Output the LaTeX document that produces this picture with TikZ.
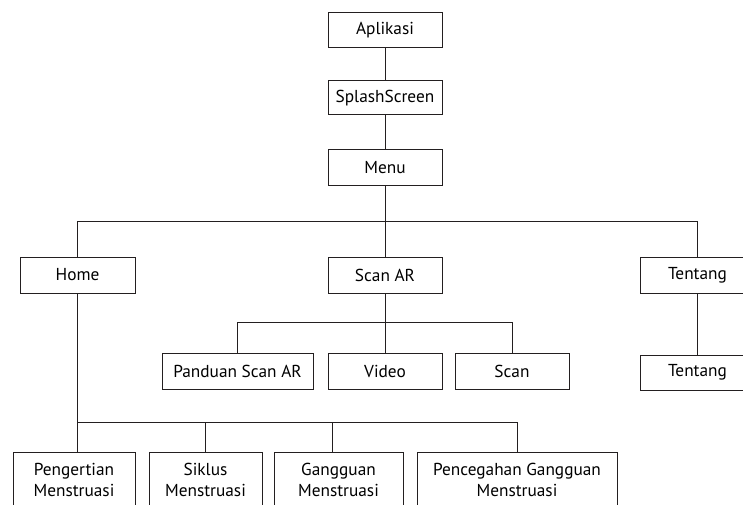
\documentclass[tikz,border=0pt]{standalone}
\usepackage{fontspec}
\setmainfont{PT Sans}
\usepackage{tikz}
\usetikzlibrary{positioning}
\usetikzlibrary{calc}

\begin{document}
\begin{tikzpicture}[x=1pt,y=1pt,yscale=-1,xscale=1,
  menubox/.style={draw={rgb,255:red,35;green,31;blue,32},line width=1pt,fill=white,
    inner sep=0pt,align=center,font=\fontsize{17.3}{21}\selectfont},
  wire/.style={draw={rgb,255:red,35;green,31;blue,32},line width=1pt}]
\useasboundingbox (0,0) rectangle (743,505);
\clip (0,0) rectangle (743,505);

% Top chain
\node[menubox,minimum width=114,minimum height=35] (aplikasi) at (385,30.5) {Aplikasi};
\node[menubox,minimum width=114,minimum height=34] (splash) at (385,98) {SplashScreen};
\node[menubox,minimum width=114,minimum height=35] (menu) at (385,167.5) {Menu};

% Main menu items
\node[menubox,minimum width=115,minimum height=36] (home) at (77.5,275) {Home};
\node[menubox,minimum width=114,minimum height=36] (scanar) at (385,275) {Scan AR};
\node[menubox,minimum width=115,minimum height=36] (tentang) at (697.5,275) {Tentang};

% Scan AR items
\node[menubox,minimum width=151,minimum height=36] (panduan) at (237.5,371) {Panduan Scan AR};
\node[menubox,minimum width=114,minimum height=36] (video) at (385,371) {Video};
\node[menubox,minimum width=114,minimum height=36] (scan) at (512,371) {Scan};

% Tentang item
\node[menubox,minimum width=115,minimum height=35] (tentangisi) at (697.5,372.5) {Tentang};

% Home items
\node[menubox,minimum width=122,minimum height=56] (pengertian) at (74,480) {Pengertian\\Menstruasi};
\node[menubox,minimum width=113,minimum height=56] (siklus) at (205.5,480) {Siklus\\Menstruasi};
\node[menubox,minimum width=129,minimum height=56] (gangguan) at (338.5,480) {Gangguan\\Menstruasi};
\node[menubox,minimum width=200,minimum height=56] (pencegahan) at (517,480) {Pencegahan Gangguan\\Menstruasi};

% Connectors
\draw[wire] (aplikasi) -- (splash);
\draw[wire] (splash) -- (menu);
\draw[wire] (menu) -- (scanar);
\draw[wire] (home.north) -- ++(0,-35) -| (tentang.north);
\draw[wire] (tentang) -- (tentangisi);

\draw[wire] (scanar) -- (video);
\draw[wire] (panduan.north) -- ++(0,-30) -| (scan.north);

\draw[wire] (home.south) -- (home.south |- pengertian.north);
\coordinate (homebus) at ($(home.south |- pengertian.north)+(0,-29)$);
\draw[wire] (homebus) -| (pencegahan.north);
\draw[wire] (siklus.north) -- (siklus.north |- homebus);
\draw[wire] ([xshift=-6.5]gangguan.north) -- ([xshift=-6.5]gangguan.north |- homebus);

\end{tikzpicture}
\end{document}
